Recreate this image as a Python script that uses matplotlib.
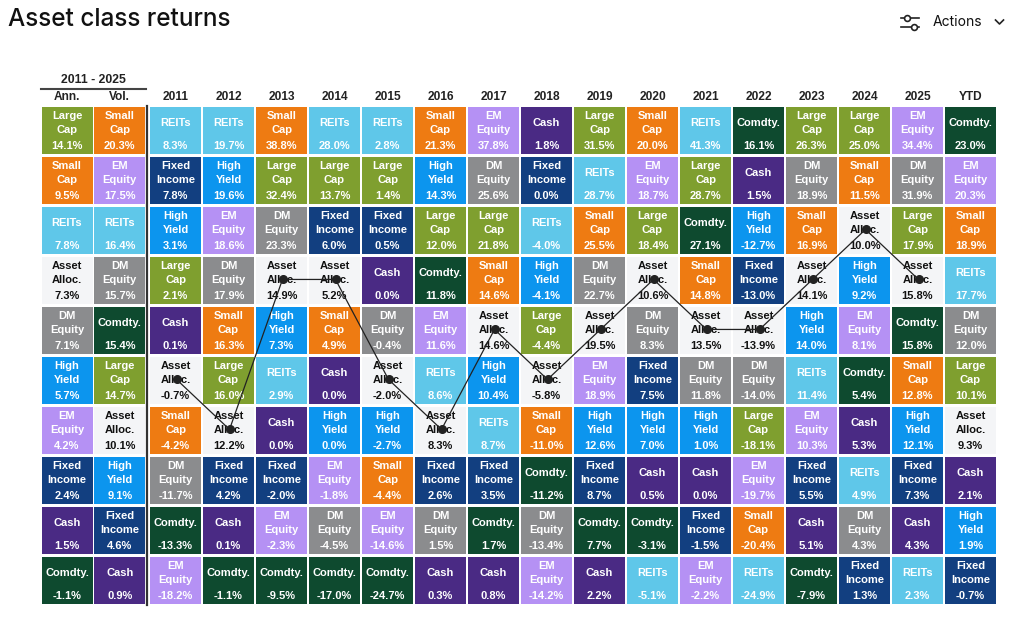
import matplotlib
matplotlib.use('agg')
import matplotlib.pyplot as plt
from matplotlib.patches import Rectangle

# column headers
col_labels = ['Ann.', 'Vol.', '2011', '2012', '2013', '2014', '2015', '2016', '2017',
              '2018', '2019', '2020', '2021', '2022', '2023', '2024', '2025', 'YTD']

# each column ranked top to bottom: (asset, return %)
ann = [('LC', 14.1), ('SC', 9.5), ('RE', 7.8), ('AA', 7.3), ('DM', 7.1),
       ('HY', 5.7), ('EM', 4.2), ('FI', 2.4), ('CA', 1.5), ('CO', -1.1)]
vol = [('SC', 20.3), ('EM', 17.5), ('RE', 16.4), ('DM', 15.7), ('CO', 15.4),
       ('LC', 14.7), ('AA', 10.1), ('HY', 9.1), ('FI', 4.6), ('CA', 0.9)]
y2011 = [('RE', 8.3), ('FI', 7.8), ('HY', 3.1), ('LC', 2.1), ('CA', 0.1),
         ('AA', -0.7), ('SC', -4.2), ('DM', -11.7), ('CO', -13.3), ('EM', -18.2)]
y2012 = [('RE', 19.7), ('HY', 19.6), ('EM', 18.6), ('DM', 17.9), ('SC', 16.3),
         ('LC', 16.0), ('AA', 12.2), ('FI', 4.2), ('CA', 0.1), ('CO', -1.1)]
y2013 = [('SC', 38.8), ('LC', 32.4), ('DM', 23.3), ('AA', 14.9), ('HY', 7.3),
         ('RE', 2.9), ('CA', 0.0), ('FI', -2.0), ('EM', -2.3), ('CO', -9.5)]
y2014 = [('RE', 28.0), ('LC', 13.7), ('FI', 6.0), ('AA', 5.2), ('SC', 4.9),
         ('CA', 0.0), ('HY', 0.0), ('EM', -1.8), ('DM', -4.5), ('CO', -17.0)]
y2015 = [('RE', 2.8), ('LC', 1.4), ('FI', 0.5), ('CA', 0.0), ('DM', -0.4),
         ('AA', -2.0), ('HY', -2.7), ('SC', -4.4), ('EM', -14.6), ('CO', -24.7)]
y2016 = [('SC', 21.3), ('HY', 14.3), ('LC', 12.0), ('CO', 11.8), ('EM', 11.6),
         ('RE', 8.6), ('AA', 8.3), ('FI', 2.6), ('DM', 1.5), ('CA', 0.3)]
y2017 = [('EM', 37.8), ('DM', 25.6), ('LC', 21.8), ('SC', 14.6), ('AA', 14.6),
         ('HY', 10.4), ('RE', 8.7), ('FI', 3.5), ('CO', 1.7), ('CA', 0.8)]
y2018 = [('CA', 1.8), ('FI', 0.0), ('RE', -4.0), ('HY', -4.1), ('LC', -4.4),
         ('AA', -5.8), ('SC', -11.0), ('CO', -11.2), ('DM', -13.4), ('EM', -14.2)]
y2019 = [('LC', 31.5), ('RE', 28.7), ('SC', 25.5), ('DM', 22.7), ('AA', 19.5),
         ('EM', 18.9), ('HY', 12.6), ('FI', 8.7), ('CO', 7.7), ('CA', 2.2)]
y2020 = [('SC', 20.0), ('EM', 18.7), ('LC', 18.4), ('AA', 10.6), ('DM', 8.3),
         ('FI', 7.5), ('HY', 7.0), ('CA', 0.5), ('CO', -3.1), ('RE', -5.1)]
y2021 = [('RE', 41.3), ('LC', 28.7), ('CO', 27.1), ('SC', 14.8), ('AA', 13.5),
         ('DM', 11.8), ('HY', 1.0), ('CA', 0.0), ('FI', -1.5), ('EM', -2.2)]
y2022 = [('CO', 16.1), ('CA', 1.5), ('HY', -12.7), ('FI', -13.0), ('AA', -13.9),
         ('DM', -14.0), ('LC', -18.1), ('EM', -19.7), ('SC', -20.4), ('RE', -24.9)]
y2023 = [('LC', 26.3), ('DM', 18.9), ('SC', 16.9), ('AA', 14.1), ('HY', 14.0),
         ('RE', 11.4), ('EM', 10.3), ('FI', 5.5), ('CA', 5.1), ('CO', -7.9)]
y2024 = [('LC', 25.0), ('SC', 11.5), ('AA', 10.0), ('HY', 9.2), ('EM', 8.1),
         ('CO', 5.4), ('CA', 5.3), ('RE', 4.9), ('DM', 4.3), ('FI', 1.3)]
y2025 = [('EM', 34.4), ('DM', 31.9), ('LC', 17.9), ('AA', 15.8), ('CO', 15.8),
         ('SC', 12.8), ('HY', 12.1), ('FI', 7.3), ('CA', 4.3), ('RE', 2.3)]
ytd = [('CO', 23.0), ('EM', 20.3), ('SC', 18.9), ('RE', 17.7), ('DM', 12.0),
       ('LC', 10.1), ('AA', 9.3), ('CA', 2.1), ('HY', 1.9), ('FI', -0.7)]

columns = [ann, vol, y2011, y2012, y2013, y2014, y2015, y2016, y2017, y2018,
           y2019, y2020, y2021, y2022, y2023, y2024, y2025, ytd]

names = {'LC': ['Large', 'Cap'], 'SC': ['Small', 'Cap'], 'RE': ['REITs'],
         'EM': ['EM', 'Equity'], 'DM': ['DM', 'Equity'], 'HY': ['High', 'Yield'],
         'FI': ['Fixed', 'Income'], 'CA': ['Cash'], 'CO': ['Comdty.'],
         'AA': ['Asset', 'Alloc.']}
colors = {'LC': '#7f9f2f', 'SC': '#ee7b12', 'RE': '#5fc7e9', 'EM': '#b591f4',
          'DM': '#8b8c8e', 'HY': '#0c95ee', 'FI': '#123f80', 'CA': '#4a2a84',
          'CO': '#0e4a2f', 'AA': '#f4f5f7'}

CELL_FONT = ['Liberation Sans', 'DejaVu Sans']

fig = plt.figure(figsize=(10.24, 6.37), dpi=100)
ax = fig.add_axes([0, 0, 1, 1])
ax.set_xlim(0, 1024)
ax.set_ylim(637, 0)
ax.axis('off')

col_left = [41.5, 94.2] + [150 + 53 * k for k in range(16)]
cw, ch = 51, 47.5
row_top = [106.7 + 50 * r for r in range(10)]

# header
ax.text(8, 20, 'Asset class returns', fontsize=17.5, family=['Inter', 'DejaVu Sans'],
        weight='medium', va='center', ha='left', color='#111')
ax.text(933, 22, 'Actions', fontsize=10, family=['Inter', 'DejaVu Sans'],
        va='center', ha='left', color='#111')
# filter icon + chevron
ax.plot([901, 919], [17.5, 17.5], color='#222', lw=1.2)
ax.plot([901, 919], [27, 27], color='#222', lw=1.2)
ax.plot([906.5], [17.5], 'o', ms=4.2, mfc='white', mec='#222', mew=1.2)
ax.plot([913.5], [27], 'o', ms=4.2, mfc='white', mec='#222', mew=1.2)
ax.plot([995.5, 999.5, 1003.5], [20, 24, 20], color='#222', lw=1.2)

ax.text((col_left[0] + col_left[1] + cw) / 2, 80, '2011 - 2025', fontsize=8.8,
        weight='bold', family=CELL_FONT, ha='center', va='center', color='#222')
ax.plot([41, 146], [88.5, 88.5], color='#444', lw=1.5)
for i, lab in enumerate(col_labels):
    ax.text(col_left[i] + cw / 2, 97.5, lab, fontsize=8.6, weight='bold',
            family=CELL_FONT, ha='center', va='center', color='#222')
ax.plot([147, 147], [106, 605], color='#333', lw=1.6)

# cells
for i, col in enumerate(columns):
    for r, (asset, val) in enumerate(col):
        x, y = col_left[i], row_top[r]
        ax.add_patch(Rectangle((x, y), cw, ch, facecolor=colors[asset], edgecolor='none'))
        tc = '#111' if asset == 'AA' else 'white'
        lines = names[asset]
        if len(lines) == 2:
            ax.text(x + cw / 2, y + 9.5, lines[0], color=tc, fontsize=8, weight='bold',
                    family=CELL_FONT, ha='center', va='center')
            ax.text(x + cw / 2, y + 23.5, lines[1], color=tc, fontsize=8, weight='bold',
                    family=CELL_FONT, ha='center', va='center')
        else:
            ax.text(x + cw / 2, y + 16, lines[0], color=tc, fontsize=8, weight='bold',
                    family=CELL_FONT, ha='center', va='center')
        ax.text(x + cw / 2, y + 39, '%.1f%%' % val, color=tc, fontsize=8, weight='bold',
                family=CELL_FONT, ha='center', va='center')

# asset allocation path across calendar years
px, py = [], []
for i in range(2, 17):
    r = [a for a, v in columns[i]].index('AA')
    px.append(col_left[i] + cw / 2 + 1)
    py.append(row_top[r] + ch / 2 - 1)
ax.plot(px, py, color='#222', lw=0.9, marker='o', ms=5.5, zorder=5)

fig.savefig('out.png', dpi=100)
